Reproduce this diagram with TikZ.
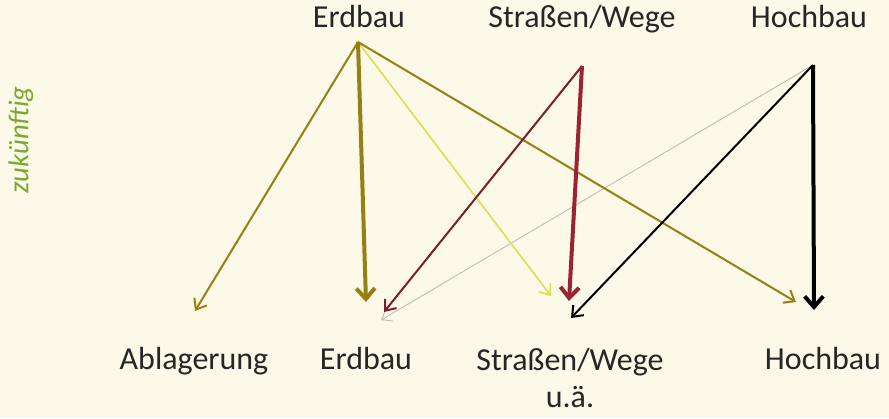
\documentclass[tikz,border=0pt]{standalone}
\usepackage{fontspec}
\setmainfont{Carlito}
\usetikzlibrary{arrows.meta}
\definecolor{bg}{RGB}{252,249,232}
\definecolor{olive}{RGB}{150,128,18}
\definecolor{paleyel}{RGB}{222,222,80}
\definecolor{darkred}{RGB}{122,30,45}
\definecolor{wine}{RGB}{155,35,52}
\definecolor{greytxt}{RGB}{190,190,185}
\definecolor{zgreen}{RGB}{122,168,48}
\tikzset{
  lbl/.style={font=\fontsize{24}{28}\selectfont, inner sep=0pt, anchor=base, text=black!85},
  arr/.style={-{Straight Barb[length=7pt,width=11pt]}, line width=1.5pt},
  thickarr/.style={-{Straight Barb[length=8pt,width=14pt]}, line width=3pt},
}
\begin{document}
\begin{tikzpicture}[x=0.75pt,y=-0.75pt]
\fill[bg] (0,0) rectangle (889,418);
\useasboundingbox (0,0) rectangle (889,418);
% labels
\node[lbl] (t1) at (359,27) {Erdbau};
\node[lbl] (t2) at (582,27) {Straßen/Wege};
\node[lbl] (t3) at (809,27) {Hochbau};
\node[lbl] (b1) at (194,369) {Ablagerung};
\node[lbl] (b2) at (366,369) {Erdbau};
\node[lbl] (b3) at (570,370) {Straßen/Wege};
\node[lbl] (b3b) at (570,407) {u.ä.};
\node[lbl] (b4) at (823,369) {Hochbau};
\node[font=\fontsize{21.5}{24}\selectfont\itshape, text=zgreen, rotate=90, inner sep=0pt] (z) at (21,140) {zukünftig};
% coordinates
\coordinate (s1) at (358,42);
\coordinate (s2) at (582,66);
\coordinate (s3) at (813,65);
\coordinate (e11) at (195,311);
\coordinate (e12) at (366,302);
\coordinate (e13) at (551,296);
\coordinate (e14) at (796,302);
\coordinate (e21) at (384,312);
\coordinate (e22) at (569,301);
\coordinate (e31) at (381,320);
\coordinate (e32) at (571,318);
\coordinate (e33) at (814,310);
% arrows
\draw[arr, greytxt, line width=0.7pt] (s3) -- (e31);
\draw[arr, olive] (s1) -- (e11);
\draw[arr, paleyel, line width=1.2pt] (s1) -- (e13);
\draw[arr, olive] (s1) -- (e14);
\draw[thickarr, olive] (s1) -- (e12);
\draw[arr, darkred] (s2) -- (e21);
\draw[thickarr, wine] (s2) -- (e22);
\draw[arr, black] (s3) -- (e32);
\draw[thickarr, black] (s3) -- (e33);
\end{tikzpicture}
\end{document}
